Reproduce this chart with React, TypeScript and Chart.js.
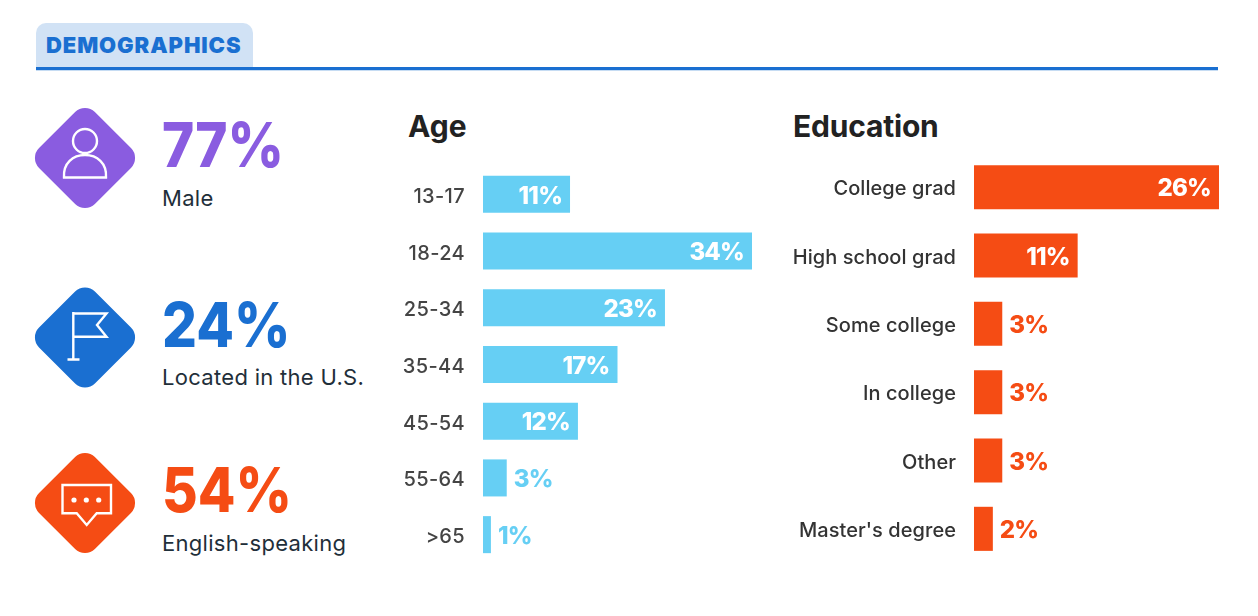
import React, { useEffect, useRef } from "react";
import { Chart, registerables } from "chart.js";

Chart.register(...registerables);

const ageLabels = ["13-17", "18-24", "25-34", "35-44", "45-54", "55-64", ">65"];
const ageValues = [11, 34, 23, 17, 12, 3, 1];
const eduLabels = ["College grad", "High school grad", "Some college", "In college", "Other", "Master's degree"];
const eduValues = [26, 11, 3, 3, 3, 2];
const statValues = ["77%", "24%", "54%"];
const statLabels = ["Male", "Located in the U.S.", "English-speaking"];

const PURPLE = "#8a5ce0";
const BLUE = "#1a6fd1";
const ORANGE = "#f54c14";
const SKY = "#66cff4";
const FONT = "Inter, sans-serif";

const valueLabels = (color: string) => ({
  id: "valueLabels",
  afterDatasetsDraw(chart: any) {
    const { ctx } = chart;
    const meta = chart.getDatasetMeta(0);
    const values = chart.data.datasets[0].data as number[];
    ctx.save();
    ctx.font = `800 24px ${FONT}`;
    ctx.letterSpacing = "-0.8px";
    ctx.textBaseline = "middle";
    meta.data.forEach((bar: any, i: number) => {
      const inside = values[i] >= 10;
      ctx.fillStyle = inside ? "#ffffff" : color;
      ctx.textAlign = inside ? "right" : "left";
      ctx.fillText(`${values[i]}%`, inside ? bar.x - 8 : bar.x + 7, bar.y + 2);
    });
    ctx.restore();
  },
});

// Nudges the library's own tick labels down so they sit level with the bars.
const tickNudge = (shift: number, spacing: string) => ({
  id: "tickNudge",
  beforeDraw(chart: any) {
    chart.ctx.letterSpacing = spacing;
    chart.scales.y.getLabelItems().forEach((item: any) => {
      if (!item.nudged) {
        item.options.translation[1] += shift;
        item.nudged = true;
      }
    });
  },
  afterDraw(chart: any) {
    chart.ctx.letterSpacing = "0px";
  },
});

function BarChart(props: {
  labels: string[]; values: number[]; color: string; max: number; axisWidth: number;
  barShare: number; tickColor: string; tickShift: number; tickSpacing: string; style: React.CSSProperties;
}) {
  const ref = useRef<HTMLCanvasElement>(null);
  useEffect(() => {
    const chart = new Chart(ref.current!, {
      type: "bar",
      data: {
        labels: props.labels,
        datasets: [{ data: props.values, backgroundColor: props.color, barPercentage: props.barShare, categoryPercentage: 1 }],
      },
      options: {
        indexAxis: "y",
        animation: false,
        responsive: false,
        devicePixelRatio: 1,
        layout: { padding: 0 },
        plugins: { legend: { display: false }, tooltip: { enabled: false } },
        scales: {
          x: { display: false, min: 0, max: props.max },
          y: {
            grid: { display: false, drawTicks: false },
            border: { display: false },
            ticks: { color: props.tickColor, padding: 18, font: { family: FONT, size: 20, weight: 500 } },
            afterFit(scale: any) {
              scale.width = props.axisWidth;
              scale.paddingTop = 0;
              scale.paddingBottom = 0;
            },
          },
        },
      },
      plugins: [tickNudge(props.tickShift, props.tickSpacing), valueLabels(props.color)],
    } as any);
    return () => chart.destroy();
  }, []);
  const { width, height } = props.style as any;
  return <canvas ref={ref} width={width} height={height} style={{ position: "absolute", ...props.style }} />;
}

function Diamond({ cy, color, children }: { cy: number; color: string; children: React.ReactNode }) {
  return (
    <g>
      <rect x={45.5} y={cy - 39.5} width={79} height={79} rx={14} fill={color} transform={`rotate(45 85 ${cy})`} />
      <g fill="none" stroke="#fff" strokeWidth={2.4} strokeLinejoin="miter">{children}</g>
    </g>
  );
}

const abs = (left: number, top: number): React.CSSProperties => ({ position: "absolute", left, top, whiteSpace: "nowrap" });

export default function App() {
  const statTops = [107, 287, 452];
  const statLabelTops = [184, 363, 529];
  const colors = [PURPLE, BLUE, ORANGE];
  return (
    <div style={{ position: "fixed", inset: 0, background: "#fff", fontFamily: FONT, overflow: "hidden" }}>
      <div style={{ position: "absolute", left: 36, top: 23, width: 217, height: 44, background: "#d1e2f5", borderRadius: "10px 10px 0 0" }} />
      <div style={{ ...abs(46, 31), fontSize: 22, lineHeight: "28px", fontWeight: 900, letterSpacing: 0.9, color: BLUE }}>DEMOGRAPHICS</div>
      <div style={{ position: "absolute", left: 36, top: 67, width: 1182, height: 3, background: BLUE }} />
      <div style={{ position: "absolute", left: 36, top: 70, width: 1182, height: 1, background: "#c6dcf3" }} />

      <svg width={1258} height={616} style={{ position: "absolute", left: 0, top: 0 }}>
        <Diamond cy={158} color={PURPLE}>
          <circle cx={85} cy={141} r={12} />
          <path d="M64 177.5 C63 163 73 155 85 155 C97 155 107 163 106 177.5 Z" />
        </Diamond>
        <Diamond cy={337.5} color={BLUE}>
          <path d="M73.3 312 V359.5 M67.5 359.5 H79.5 M73.3 313.5 H106.5 L97 325 L106.5 336.7 H73.3" />
        </Diamond>
        <Diamond cy={503} color={ORANGE}>
          <path d="M62.5 485 H111 V513.3 H96.7 L86.7 525 L76.7 513.3 H62.5 Z" />
          <circle cx={74} cy={500} r={2.6} fill="#fff" stroke="none" />
          <circle cx={86.3} cy={500} r={2.6} fill="#fff" stroke="none" />
          <circle cx={98.7} cy={500} r={2.6} fill="#fff" stroke="none" />
        </Diamond>
      </svg>

      {statValues.map((v, i) => (
        <React.Fragment key={v}>
          <div style={{ ...abs(162, statTops[i]), fontSize: 62, lineHeight: "76px", fontWeight: 800, color: colors[i], transform: "scaleX(0.885)", transformOrigin: "left center" }}>{v}</div>
          <div style={{ ...abs(162, statLabelTops[i]), fontSize: 22, lineHeight: "28px", fontWeight: 400, letterSpacing: 0.3, color: "#1f2f3a" }}>{statLabels[i]}</div>
        </React.Fragment>
      ))}

      <div style={{ ...abs(408, 107), fontSize: 30, lineHeight: "38px", fontWeight: 700, color: "#222" }}>Age</div>
      <div style={{ ...abs(793, 107), fontSize: 30, lineHeight: "38px", fontWeight: 700, letterSpacing: -0.2, color: "#222" }}>Education</div>

      <BarChart labels={ageLabels} values={ageValues} color={SKY} max={34} axisWidth={88} barShare={0.653} tickColor="#444" tickShift={2.5} tickSpacing="0.35px"
        style={{ left: 395, top: 166, width: 357, height: 397 }} />
      <BarChart labels={eduLabels} values={eduValues} color={ORANGE} max={26} axisWidth={189} barShare={0.645} tickColor="#333" tickShift={2} tickSpacing="0.06px"
        style={{ left: 785, top: 153, width: 434, height: 410 }} />
    </div>
  );
}
